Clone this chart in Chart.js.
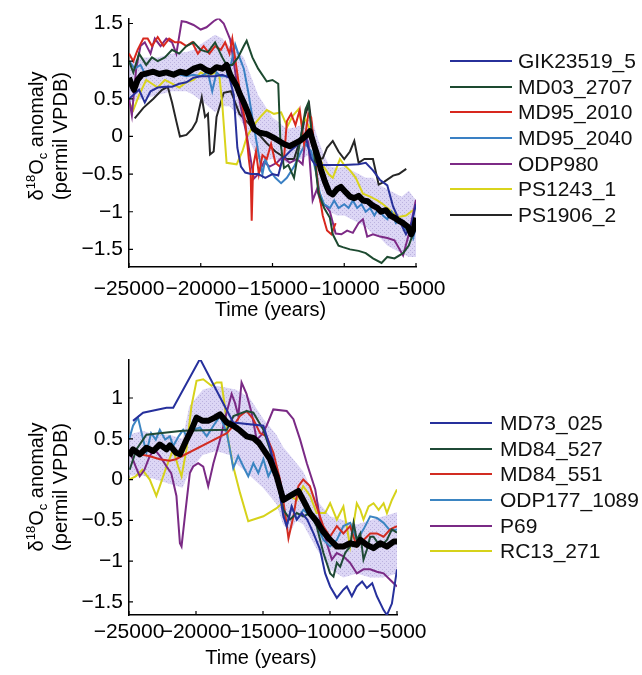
<!DOCTYPE html>
<html>
<head>
<meta charset="utf-8">
<script src="https://cdn.jsdelivr.net/npm/chart.js@4/dist/chart.umd.min.js"></script>
<style>
  body { margin: 0; background: #fff; width: 642px; height: 675px; position: relative; overflow: hidden;
         font-family: "Liberation Sans", Arial, Helvetica, sans-serif; }
  canvas { position: absolute; left: 0; }
  #topChart { top: 0; }
  #botChart { top: 335px; }
  .legend { position: absolute; font-size: 21px; color: #111; }
  .legend div { height: 25.7px; display: flex; align-items: center; white-space: nowrap; }
  .legend .ln { display: inline-block; width: 62px; height: 2px; }
</style>
</head>
<body>
<canvas id="topChart" width="642" height="335"></canvas>
<canvas id="botChart" width="642" height="340"></canvas>
<div class="legend" id="topLegend" style="left:450px; top:48px"></div>
<div class="legend" id="botLegend" style="left:430px; top:410px"></div>
<script>
// ---- tick values ----
const xTicks = [-25000, -20000, -15000, -10000, -5000];
const yTicksTop = [-1.5, -1, -0.5, 0, 0.5, 1, 1.5];
const yTicksBot = [-1.5, -1, -0.5, 0, 0.5, 1];

// ---- top panel: names ----
const topNames = ['GIK23519_5', 'MD03_2707', 'MD95_2010', 'MD95_2040', 'ODP980', 'PS1243_1', 'PS1906_2'];

// stack mean and spread (top)
const meanTopT = [-25000,-24800,-24650,-24400,-24100,-23700,-23300,-22900,-22400,-21900,-21450,-21000,-20500,-20000,-19600,-19300,-18900,-18500,-18200,-17950,-17500,-17250,-17000,-16780,-16500,-16300,-15900,-15400,-14800,-14200,-13800,-13500,-13100,-12700,-12400,-12100,-11850,-11640,-11350,-11050,-10800,-10500,-10230,-9900,-9600,-9300,-9000,-8700,-8370,-8000,-7700,-7430,-7100,-6800,-6500,-6200,-5900,-5560,-5330,-5150,-4980];
const meanTopV = [0.78,0.68,0.62,0.75,0.82,0.84,0.86,0.83,0.85,0.82,0.86,0.84,0.9,0.93,0.88,0.86,0.92,0.9,0.95,0.82,0.67,0.55,0.45,0.35,0.2,0.1,0.05,0.03,-0.03,-0.1,-0.13,-0.1,-0.06,0.0,0.07,-0.12,-0.27,-0.43,-0.6,-0.74,-0.77,-0.7,-0.67,-0.74,-0.8,-0.82,-0.79,-0.85,-0.86,-0.92,-0.95,-1.0,-0.98,-1.05,-1.08,-1.12,-1.15,-1.2,-1.3,-1.22,-1.08];
const bandTopT = [-25000,-24000,-23000,-22000,-21000,-20500,-19800,-19000,-18500,-18000,-17500,-17000,-16500,-16000,-15500,-15000,-14500,-14000,-13500,-13000,-12500,-12200,-11800,-11400,-11000,-10500,-10000,-9500,-9000,-8500,-8000,-7500,-7000,-6500,-6000,-5500,-5000];
const bandTopHi = [1.0,1.05,1.05,1.1,1.12,1.15,1.25,1.35,1.3,1.2,1.15,1.05,0.8,0.55,0.4,0.25,0.18,0.1,0.12,0.15,0.22,0.2,-0.05,-0.25,-0.4,-0.42,-0.4,-0.45,-0.5,-0.55,-0.55,-0.65,-0.7,-0.75,-0.8,-0.72,-0.85];
const bandTopLo = [0.45,0.5,0.55,0.6,0.6,0.55,0.45,0.32,0.4,0.4,0.3,0.15,-0.1,-0.3,-0.32,-0.3,-0.32,-0.35,-0.3,-0.3,-0.25,-0.3,-0.6,-0.85,-1.0,-1.05,-1.05,-1.1,-1.15,-1.2,-1.3,-1.35,-1.45,-1.5,-1.55,-1.6,-1.6];

// individual records (top)
const gikT = [-25000,-24700,-24300,-23900,-23500,-23000,-22500,-22000,-21500,-21000,-20500,-20000,-19500,-19000,-18500,-18000,-17700,-17450,-17200,-16900,-16500,-16000,-15500,-15000,-14600,-14300,-13800,-13200,-12700,-12300,-12000,-11000,-10000,-9000,-8500,-8000,-7500,-7000,-6600,-6200,-5700,-5300,-5000];
const gikV = [0.5,0.55,0.62,0.45,0.6,0.65,0.66,0.66,0.7,0.72,0.78,0.8,0.8,0.8,0.82,0.78,0.55,-0.15,-0.4,-0.48,-0.5,-0.5,-0.55,-0.5,-0.52,-0.3,-0.2,-0.1,0.0,-0.3,-0.38,-0.38,-0.38,-0.37,-0.35,-0.45,-0.58,-0.65,-0.93,-1.1,-1.3,-1.15,-0.9];
const md03T = [-25000,-24700,-24300,-23800,-23400,-23000,-22500,-22000,-21500,-21000,-20500,-20000,-19500,-19000,-18500,-18200,-17800,-17400,-17000,-16800,-16400,-16000,-15400,-15000,-14600,-14450,-14200,-13900,-13500,-13200,-12700,-12500,-12200,-11800,-11400,-11000,-10800,-10400,-10100,-9600,-9000,-8500,-8000,-7400,-7000,-6500,-5900,-5500,-5200,-5000];
const md03V = [1.0,0.85,1.1,0.95,1.05,1.0,1.05,1.15,1.1,1.2,1.25,1.15,1.12,1.25,1.05,0.95,0.95,1.05,1.2,1.27,1.05,0.9,0.73,0.75,0.7,-0.07,-0.42,-0.38,-0.55,-0.2,0.36,0.45,-0.06,-0.75,-0.95,-1.08,-1.3,-1.45,-1.47,-1.5,-1.52,-1.55,-1.62,-1.68,-1.6,-1.62,-1.55,-1.45,-1.29,-1.1];
const md2010T = [-25000,-24700,-24400,-24000,-23700,-23400,-23000,-22600,-22200,-21800,-21400,-21000,-20600,-20200,-19800,-19400,-19000,-18600,-18300,-18000,-17800,-17500,-17200,-16900,-16650,-16520,-16450,-16350,-16150,-15950,-15700,-15400,-15100,-14800,-14500,-14200,-14000,-13700,-13400,-13100,-12800,-12500,-12300,-12000,-11800,-11500,-11200,-10900,-10600];
const md2010V = [1.1,1.0,1.15,1.3,1.3,1.2,1.32,1.2,1.3,1.25,1.25,1.2,1.25,1.1,1.2,1.1,1.2,1.15,1.25,1.1,1.3,0.9,0.5,0.2,-0.3,-0.5,-1.12,-0.4,-0.2,-0.5,-0.25,-0.3,-0.1,-0.35,-0.4,-0.3,0.2,0.3,0.15,0.35,-0.1,0.3,0.25,-0.35,-0.7,-1.05,-1.25,-1.3,-1.15];
const md2040T = [-25000,-24600,-24200,-23800,-23500,-23000,-22000,-21000,-20500,-20000,-19500,-19200,-18900,-18600,-18200,-17900,-17600,-17300,-17000,-16700,-16400,-16000,-15700,-15500,-15200,-14800,-14400,-14000,-13500,-13000,-12700,-12300,-12000,-11700,-11400,-11000,-10700,-10400,-10000,-9700,-9400,-9100,-8800,-8500,-8200,-7900,-7600,-7300,-7000,-6700,-6400,-6100,-5800,-5500,-5200,-5000];
const md2040V = [1.0,0.9,0.95,0.8,0.85,0.82,0.85,0.8,0.82,0.8,0.85,0.6,0.85,0.8,0.8,0.95,1.22,1.05,0.9,0.6,0.25,-0.2,-0.5,-0.3,-0.45,-0.55,-0.62,-0.55,-0.4,-0.2,-0.1,-0.2,-0.45,-0.75,-0.9,-0.95,-0.85,-0.95,-0.9,-0.95,-0.85,-0.95,-0.9,-1.0,-0.95,-1.05,-0.95,-1.05,-1.1,-1.0,-1.15,-1.1,-1.25,-1.2,-1.35,-1.2];
const odp980T = [-25000,-24800,-24500,-24200,-23900,-23500,-23200,-22800,-22400,-22000,-21700,-21330,-21000,-20500,-20000,-19600,-19100,-18760,-18400,-17950,-17600,-17250,-16780,-16300,-16000,-15600,-15200,-14700,-14300,-13800,-13300,-12900,-12700,-12500,-12200,-11900,-11600,-11300,-11000,-10600,-10200,-9800,-9400,-9000,-8700,-8400,-8000,-7500,-7000,-6500,-5900,-5500,-5000];
const odp980V = [0.5,0.28,0.9,1.2,1.25,1.1,1.3,1.2,1.3,1.25,1.1,1.53,1.52,1.48,1.42,1.45,1.53,1.57,1.5,1.29,0.86,0.43,0.0,-0.56,-0.5,-0.34,-0.4,-0.35,-0.27,-0.35,-0.3,-0.37,0.0,-0.08,-0.85,-0.7,-0.9,-0.92,-1.0,-1.29,-1.3,-1.25,-1.28,-1.15,-1.1,-1.33,-1.3,-1.33,-1.35,-1.38,-1.58,-1.3,-0.84];
const ps1243T = [-25000,-24700,-24300,-23800,-23400,-23000,-22500,-22000,-21500,-21000,-20500,-20000,-19500,-19000,-18700,-18500,-18200,-17500,-17100,-16780,-16300,-15840,-15400,-14900,-14400,-13970,-13600,-13200,-12950,-12750,-12200,-11900,-11500,-11100,-10800,-10300,-10000,-9600,-9200,-8700,-8200,-7700,-7300,-6800,-6200,-5700,-5000];
const ps1243V = [0.45,0.35,0.55,0.75,0.7,0.65,0.75,0.7,0.65,0.72,0.75,0.85,0.8,0.85,0.8,0.43,-0.35,-0.37,-0.2,0.0,0.15,0.26,0.35,0.3,0.32,0.13,0.27,0.36,0.15,0.25,0.01,-0.2,-0.38,-0.5,-0.55,-0.3,-0.38,-0.45,-0.55,-0.76,-0.8,-0.85,-0.9,-0.98,-1.07,-1.05,-0.95];
const ps1906T = [-24600,-24000,-23300,-22700,-22300,-22000,-21700,-21450,-21000,-20600,-20300,-19930,-19700,-19500,-19350,-19100,-18900,-18400,-17900,-17300,-16800,-16300,-15400,-14800,-14000,-13500,-13000,-12700,-12450,-12100,-11800,-11500,-11200,-10800,-10400,-10000,-9600,-9300,-9000,-8600,-8000,-7600,-7200,-6600,-6200,-5680];
const ps1906V = [0.24,0.38,0.5,0.62,0.66,0.45,0.2,0.0,0.02,0.1,0.2,0.52,0.26,0.3,-0.24,-0.2,0.26,0.58,0.6,0.3,0.2,0.1,-0.09,-0.2,-0.3,-0.3,0.0,0.3,0.43,-0.13,-0.3,-0.29,-0.15,-0.06,-0.2,-0.3,-0.2,-0.06,-0.35,-0.3,-0.3,-0.64,-0.6,-0.52,-0.5,-0.43];

// ---- bottom panel: names ----
const botNames = ['MD73_025', 'MD84_527', 'MD84_551', 'ODP177_1089', 'P69', 'RC13_271'];

const meanBotT = [-25000,-24700,-24200,-23700,-23200,-22700,-22200,-21950,-21500,-21200,-20700,-20340,-19960,-19500,-19100,-18600,-18200,-17700,-17200,-16700,-16220,-15720,-15300,-14970,-14480,-13980,-13480,-12980,-12360,-12000,-11500,-11000,-10500,-9990,-9490,-9000,-8500,-8000,-7740,-7250,-6750,-6250,-5750,-5250,-5000];
const meanBotV = [0.29,0.37,0.31,0.39,0.35,0.43,0.37,0.42,0.33,0.31,0.49,0.61,0.76,0.72,0.72,0.76,0.8,0.7,0.66,0.6,0.53,0.51,0.45,0.37,0.25,0.04,-0.25,-0.2,-0.14,-0.25,-0.41,-0.51,-0.64,-0.74,-0.82,-0.82,-0.78,-0.8,-0.74,-0.8,-0.84,-0.78,-0.82,-0.76,-0.76];
const bandBotT = [-25000,-24000,-23000,-22000,-21000,-20500,-19500,-18500,-17500,-17000,-16000,-15000,-14000,-13500,-13000,-12500,-12000,-11000,-10000,-9000,-8000,-7000,-6000,-5000];
const bandBotHi = [0.55,0.6,0.55,0.55,0.5,0.9,1.1,1.15,1.12,1.1,1.0,0.75,0.55,0.4,0.3,0.2,0.1,-0.25,-0.45,-0.5,-0.55,-0.5,-0.45,-0.4];
const bandBotLo = [0.05,0.05,0.0,-0.05,-0.1,0.1,0.3,0.35,0.3,0.2,0.05,-0.1,-0.3,-0.55,-0.65,-0.5,-0.55,-0.85,-1.1,-1.2,-1.15,-1.2,-1.2,-1.15];

const md73T = [-24700,-23950,-22200,-21700,-19700,-17220,-14970,-14500,-14000,-13480,-13230,-12860,-12480,-12100,-11700,-11230,-10740,-10360,-9990,-9490,-9000,-8740,-8370,-8000,-7600,-7250,-6850,-6500,-6000,-5750,-5380,-5000];
const md73V = [0.72,0.82,0.88,0.88,1.48,0.7,0.66,0.41,0.08,-0.45,-0.57,-0.33,-0.49,-0.41,-0.49,-0.66,-0.86,-1.15,-1.31,-1.45,-1.35,-1.31,-1.43,-1.31,-1.25,-1.33,-1.27,-1.43,-1.6,-1.66,-1.52,-1.1];
const md527T = [-24950,-24450,-23700,-21000,-17700,-17200,-16220,-15720,-14970,-14480,-13980,-13480,-12980,-12480,-11980,-11500,-11000,-10490,-9990,-9740,-9490,-9240,-8870,-8500,-8240,-8000,-7740,-7500,-7250,-7000,-6750,-6250,-5750,-5380,-5000];
const md527V = [0.12,0.37,0.55,0.6,0.61,0.78,0.84,0.82,0.61,0.37,0.0,-0.37,-0.49,-0.41,-0.45,-0.41,-0.57,-0.9,-1.15,-1.19,-1.02,-1.07,-0.9,-0.82,-0.53,-0.74,-0.66,-0.98,-0.86,-0.7,-0.7,-0.82,-0.74,-0.61,-0.65];
const md551T = [-25000,-24250,-23500,-22700,-21960,-21500,-17700,-17200,-16720,-16220,-15720,-15220,-14730,-14230,-13730,-13350,-13100,-12730,-12360,-12000,-11500,-11000,-10500,-10000,-9490,-9000,-8500,-8000,-7500,-7000,-6500,-6000,-5500,-5000];
const md551V = [0.35,0.31,0.29,0.25,0.23,0.25,0.57,0.66,0.78,0.84,0.74,0.57,0.53,0.33,0.0,-0.41,-0.72,-0.45,-0.08,0.0,-0.08,-0.33,-0.57,-0.7,-0.57,-0.66,-0.57,-0.82,-0.74,-0.66,-0.66,-0.7,-0.61,-0.57];
const odp177T = [-25000,-24700,-24330,-24000,-23700,-23350,-23000,-22700,-22300,-21950,-21700,-21300,-20960,-20580,-20210,-19700,-19200,-18700,-18200,-17700,-17470,-17220,-16850,-16470,-16100,-15720,-15350,-14970,-14600,-14230,-13850,-13480,-13230,-12860,-12480,-11980,-11480,-11000,-10490,-9990,-9490,-9000,-8490,-8000,-7500,-7000,-6500,-6000,-5500,-5000];
const odp177V = [0.49,0.66,0.76,0.53,0.33,0.57,0.49,0.61,0.49,0.53,0.41,0.53,0.61,0.49,0.61,0.64,0.53,0.66,0.78,0.57,0.37,0.14,0.29,0.16,0.04,0.2,0.08,0.25,0.04,0.16,-0.04,-0.41,-0.57,-0.33,-0.49,-0.37,-0.45,-0.55,-0.74,-0.82,-0.74,-0.57,-0.53,-0.74,-0.61,-0.45,-0.47,-0.53,-0.63,-0.61];
const p69T = [-25000,-24500,-24200,-23850,-23450,-23100,-22700,-22200,-21850,-21460,-21200,-21080,-20830,-20460,-20210,-19840,-19460,-19090,-18700,-18200,-17720,-17340,-17090,-16840,-16600,-16230,-15850,-15470,-15100,-14730,-14230,-13230,-12730,-12230,-11730,-11100,-10740,-10240,-9860,-9490,-9000,-8500,-8000,-7500,-7000,-6500,-6000,-5500,-5000];
const p69V = [0.37,0.16,0.04,0.12,0.29,0.37,0.29,0.16,0.08,-0.2,-0.78,-0.82,-0.45,0.08,0.16,0.2,0.16,-0.08,0.2,0.49,0.82,1.05,0.94,0.78,1.19,1.05,0.82,0.49,0.55,0.66,0.86,0.84,0.74,0.49,0.2,-0.12,-0.49,-0.78,-0.98,-0.9,-0.94,-1.02,-1.15,-1.1,-1.1,-1.13,-1.15,-1.23,-1.31];
const rc13T = [-25000,-24500,-24000,-23450,-22960,-22700,-22200,-21700,-21330,-21080,-20710,-20340,-19960,-19460,-18840,-18470,-18100,-17850,-17600,-17220,-16720,-16100,-14970,-13980,-12980,-12480,-12000,-11480,-11000,-10360,-9990,-9490,-9000,-8500,-8000,-7740,-7500,-7120,-6750,-6370,-6000,-5750,-5380,-5000];
const rc13V = [0.0,0.04,0.12,0.0,-0.2,-0.08,0.16,0.37,0.16,0.04,0.37,0.9,1.21,1.23,1.15,1.19,1.19,0.9,0.49,0.16,-0.16,-0.51,-0.45,-0.35,-0.2,-0.25,-0.08,-0.2,-0.41,-0.41,-0.29,-0.49,-0.33,-0.82,-0.29,-0.37,-0.49,-0.33,-0.29,-0.37,-0.29,-0.41,-0.25,-0.12];

// ---- styling ----
const topColors = ['#27309a', '#1d4a30', '#d8281e', '#3a80c4', '#7d2a86', '#d9d41c', '#262626'];
const botColors = ['#26309c', '#1f4a36', '#d22c22', '#3b85c2', '#7a2a85', '#d6d21a'];
const FONT = '"Liberation Sans", Arial, Helvetica, sans-serif';
Chart.defaults.font.family = FONT;
Chart.defaults.color = '#000';

const pts = (t, v) => t.map((x, i) => ({ x: x, y: v[i] }));
const fmt = v => (v < 0 ? '\u2212' + Math.abs(v) : String(v));

// speckled lavender fill for the spread band
function stipple() {
  const c = document.createElement('canvas');
  c.width = 4; c.height = 4;
  const g = c.getContext('2d');
  g.fillStyle = 'rgba(196,186,238,0.6)';
  g.fillRect(0, 0, 4, 4);
  g.fillStyle = 'rgba(160,150,205,0.55)';
  g.fillRect(0, 0, 1, 1);
  g.fillRect(2, 2, 1, 1);
  return g.createPattern(c, 'repeat');
}

// inward MATLAB-style ticks plus axis titles
function decor(titleCy) {
  return {
    id: 'decor',
    afterDraw(chart) {
      const ctx = chart.ctx, a = chart.chartArea;
      const xs = chart.scales.x, ys = chart.scales.y;
      ctx.save();
      ctx.strokeStyle = '#000';
      ctx.lineWidth = 1.2;
      ctx.beginPath();
      xs.ticks.forEach(t => {
        const p = xs.getPixelForValue(t.value);
        ctx.moveTo(p, a.bottom); ctx.lineTo(p, a.bottom - 4);
      });
      ys.ticks.forEach(t => {
        const p = ys.getPixelForValue(t.value);
        ctx.moveTo(a.left, p); ctx.lineTo(a.left + 4, p);
      });
      ctx.stroke();

      ctx.fillStyle = '#000';
      ctx.textAlign = 'center';
      ctx.textBaseline = 'middle';
      ctx.font = '20px ' + FONT;
      ctx.fillText('Time (years)', (a.left + a.right) / 2 - 2, a.bottom + 43);

      // rotated y title: δ18Oc anomaly / (permil VPDB)
      ctx.translate(0, titleCy);
      ctx.rotate(-Math.PI / 2);
      ctx.textBaseline = 'alphabetic';
      ctx.textAlign = 'left';
      const parts = [
        ['\u03b4', 20, 0], ['18', 13, -8], ['O', 20, 0], ['c', 13, 4], [' anomaly', 20, 0]
      ];
      let w = 0;
      parts.forEach(p => { ctx.font = p[1] + 'px ' + FONT; w += ctx.measureText(p[0]).width; });
      let u = -w / 2;
      parts.forEach(p => {
        ctx.font = p[1] + 'px ' + FONT;
        ctx.fillText(p[0], u, 43 + p[2]);
        u += ctx.measureText(p[0]).width;
      });
      ctx.font = '20px ' + FONT;
      ctx.textAlign = 'center';
      ctx.fillText('(permil VPDB)', 0, 67);
      ctx.restore();
    }
  };
}

function makePanel(id, names, colors, series, meanT, meanV, bT, bHi, bLo, yMin, yMax, yTicks, padTop, padRight, xHeight, xPad, titleCy) {
  const datasets = [];
  datasets.push({ data: pts(bT, bHi), borderWidth: 0, pointRadius: 0, backgroundColor: stipple(), fill: '+1', order: 10 });
  datasets.push({ data: pts(bT, bLo), borderWidth: 0, pointRadius: 0, fill: false, order: 10 });
  series.forEach((s, i) => {
    datasets.push({ label: names[i], data: pts(s[0], s[1]), borderColor: colors[i], borderWidth: 2,
                    pointRadius: 0, tension: 0, fill: false, order: 5 });
  });
  datasets.push({ data: pts(meanT, meanV), borderColor: '#000', borderWidth: 6, pointRadius: 0,
                  tension: 0, fill: false, order: 0, borderJoinStyle: 'round' });

  return new Chart(document.getElementById(id), {
    type: 'line',
    data: { datasets: datasets },
    options: {
      responsive: false,
      animation: false,
      layout: { padding: { top: padTop, right: padRight, left: 0, bottom: 0 } },
      plugins: { legend: { display: false }, tooltip: { enabled: false } },
      scales: {
        x: {
          type: 'linear', min: -25000, max: -5000,
          afterBuildTicks: s => { s.ticks = xTicks.map(v => ({ value: v })); },
          afterFit: s => { s.height = xHeight; },
          ticks: { callback: fmt, font: { size: 21 }, color: '#000', padding: xPad, maxRotation: 0, autoSkip: false },
          grid: { display: false, drawTicks: false },
          border: { display: true, color: '#000', width: 1.5 }
        },
        y: {
          min: yMin, max: yMax,
          afterBuildTicks: s => { s.ticks = yTicks.map(v => ({ value: v })); },
          afterFit: s => { s.width = 129; },
          ticks: { callback: fmt, font: { size: 21 }, color: '#000', padding: 6, autoSkip: false },
          grid: { display: false, drawTicks: false },
          border: { display: true, color: '#000', width: 1.5 }
        }
      }
    },
    plugins: [decor(titleCy)]
  });
}

function makeLegend(id, names, colors, gap) {
  const el = document.getElementById(id);
  names.forEach((n, i) => {
    const row = document.createElement('div');
    const ln = document.createElement('span');
    ln.className = 'ln';
    ln.style.background = colors[i];
    ln.style.marginRight = gap + 'px';
    row.appendChild(ln);
    row.appendChild(document.createTextNode(n));
    el.appendChild(row);
  });
}

makePanel('topChart', topNames, topColors,
  [[gikT, gikV], [md03T, md03V], [md2010T, md2010V], [md2040T, md2040V], [odp980T, odp980V], [ps1243T, ps1243V], [ps1906T, ps1906V]],
  meanTopT, meanTopV, bandTopT, bandTopHi, bandTopLo,
  -1.734, 1.565, yTicksTop, 13, 226, 68, 10, 136);

makePanel('botChart', botNames, botColors,
  [[md73T, md73V], [md527T, md527V], [md551T, md551V], [odp177T, odp177V], [p69T, p69V], [rc13T, rc13V]],
  meanBotT, meanBotV, bandBotT, bandBotHi, bandBotLo,
  -1.66, 1.466, yTicksBot, 25, 245, 60, 5, 152);

makeLegend('topLegend', topNames, topColors, 6);
makeLegend('botLegend', botNames, botColors, 8);
</script>
</body>
</html>
